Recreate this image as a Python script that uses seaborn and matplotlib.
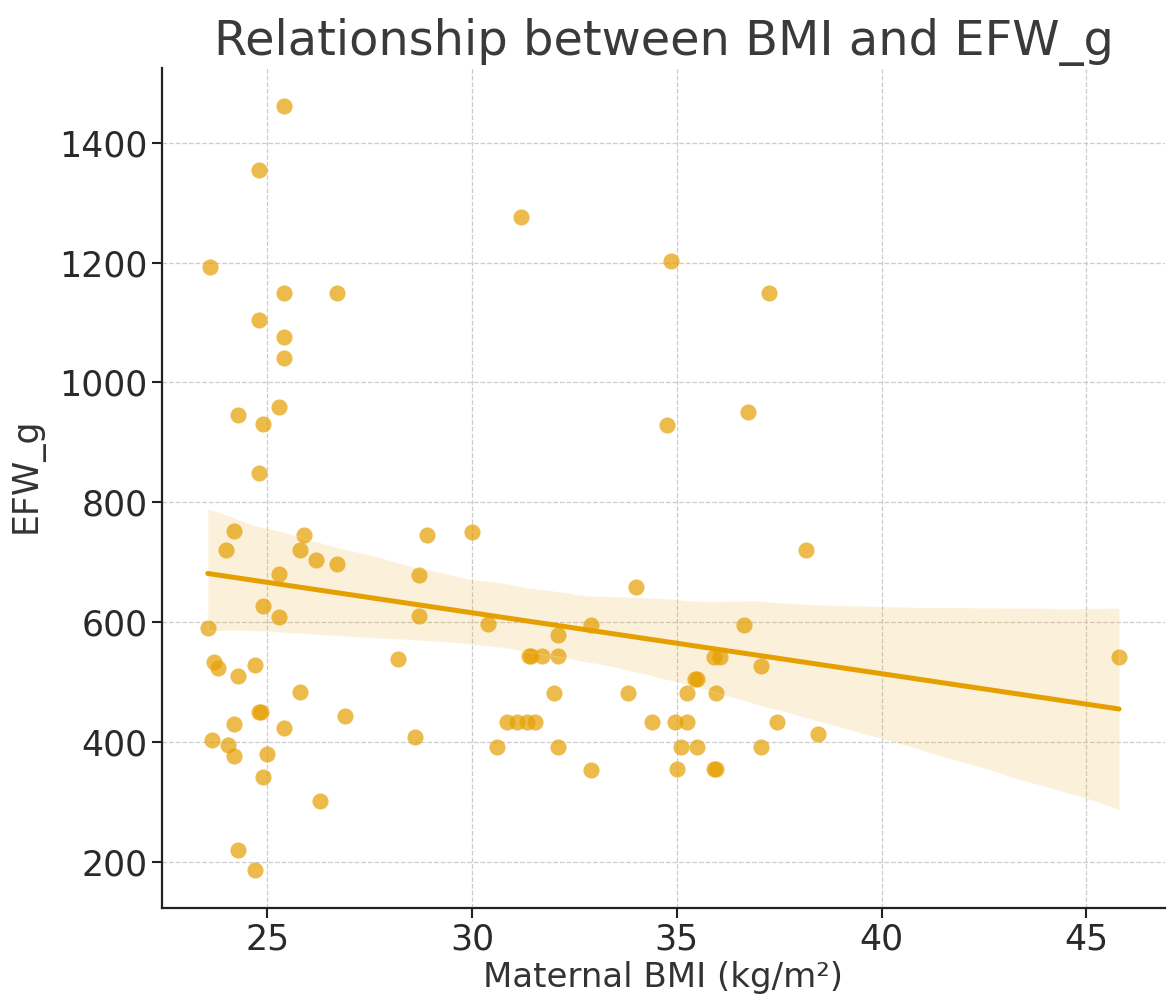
import matplotlib
matplotlib.use("Agg")
import matplotlib.pyplot as plt
import seaborn as sns
import pandas as pd

# Data
bmi = [25.4, 24.8, 31.2, 23.6, 25.4, 26.7, 24.8, 25.4, 25.4, 25.3,
       24.3, 24.9, 24.8, 34.85, 37.25, 36.75, 34.75, 24.2, 24.0, 25.9,
       25.8, 26.2, 26.7, 28.9, 30.0, 25.3, 28.7, 24.9, 25.3, 28.7,
       30.4, 23.55, 23.7, 23.8, 24.3, 24.7, 28.2, 25.8, 24.8, 24.85,
       24.2, 25.4, 26.9, 23.65, 24.05, 24.2, 25.0, 28.6, 30.6, 24.9,
       26.3, 24.3, 24.7, 38.15, 34.0, 32.9, 36.65, 32.1, 31.4, 31.45,
       31.7, 32.1, 35.9, 36.05, 37.05, 35.45, 35.5, 32.0, 33.8, 35.25,
       35.95, 30.85, 31.1, 31.35, 31.55, 34.4, 34.95, 35.25, 37.45, 38.45,
       32.1, 35.1, 35.5, 37.05, 32.9, 35.0, 35.9, 35.95, 45.8]
efw = [1461, 1354, 1276, 1192, 1150, 1150, 1104, 1076, 1041, 959,
       945, 931, 849, 1203, 1150, 951, 929, 752, 720, 746,
       720, 704, 698, 746, 751, 681, 679, 628, 609, 611,
       598, 591, 534, 523, 510, 528, 538, 483, 451, 451,
       431, 423, 443, 404, 395, 377, 381, 409, 392, 342,
       302, 220, 187, 720, 659, 596, 596, 578, 543, 543,
       543, 543, 542, 542, 527, 506, 506, 482, 482, 482,
       482, 434, 434, 434, 434, 434, 434, 434, 434, 414,
       392, 392, 392, 392, 354, 355, 355, 355, 542]

title = "Relationship between BMI and EFW_g"
xlabel = "Maternal BMI (kg/m²)"
ylabel = "EFW_g"

df = pd.DataFrame({"BMI": bmi, "EFW_g": efw})

sns.set_theme(style="whitegrid")
plt.rcParams['font.family'] = ['DejaVu Sans']

fig = plt.figure(figsize=(11.67, 9.99), dpi=100)
ax = fig.add_axes([0.139, 0.091, 0.859, 0.841])

color = "#E69F00"
sns.regplot(data=df, x="BMI", y="EFW_g", ax=ax, color=color, seed=1,
            scatter_kws=dict(s=135, alpha=0.7, linewidths=0),
            line_kws=dict(linewidth=3.6))

ax.grid(True, linestyle="--", color="#cccccc", linewidth=0.9)
for side in ["top", "right"]:
    ax.spines[side].set_visible(False)
for side in ["left", "bottom"]:
    ax.spines[side].set_color("#222222")
    ax.spines[side].set_linewidth(1.6)
ax.tick_params(axis="both", which="both", direction="out", length=7, width=1.5,
               color="#222222", labelsize=25, labelcolor="#2a2a2a",
               left=True, bottom=True)
ax.set_title(title, fontsize=34.5, color="#3a3a3a", pad=9)
ax.set_xlabel(xlabel, fontsize=24.5, color="#333333", labelpad=3)
ax.set_ylabel(ylabel, fontsize=25, color="#333333")
ax.yaxis.set_label_coords(-0.118, 0.515)

fig.savefig("out.png", dpi=100)
